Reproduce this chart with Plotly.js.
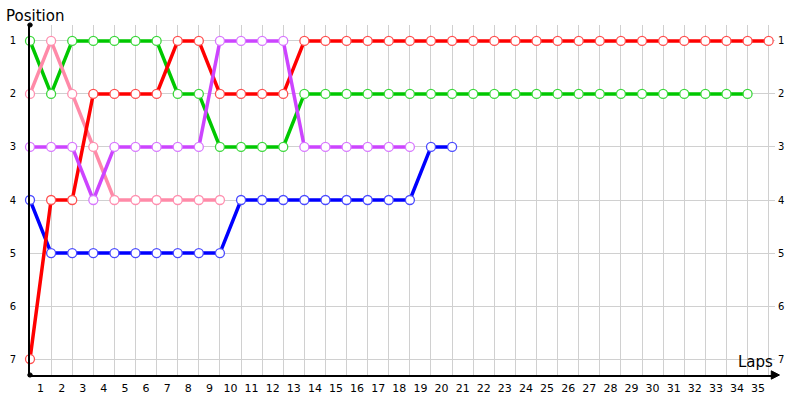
<!DOCTYPE html>
<html>
<head>
<meta charset="utf-8">
<script src="https://cdn.plot.ly/plotly-3.0.1.min.js"></script>
<style>html,body{margin:0;padding:0;background:#fff;}#chart{width:800px;height:400px;}</style>
</head>
<body>
<div id="chart"></div>
<script>
// Positions for each driver (index = lap number)
const redPos    = [7,4,4,2,2,2,2,1,1,2,2,2,2,1,1,1,1,1,1,1,1,1,1,1,1,1,1,1,1,1,1,1,1,1,1,1];
const greenPos  = [1,2,1,1,1,1,1,2,2,3,3,3,3,2,2,2,2,2,2,2,2,2,2,2,2,2,2,2,2,2,2,2,2,2,2];
const pinkPos   = [2,1,2,3,4,4,4,4,4,4];
const purplePos = [3,3,3,4,3,3,3,3,3,1,1,1,1,3,3,3,3,3,3];
const bluePos   = [4,5,5,5,5,5,5,5,5,5,4,4,4,4,4,4,4,4,4,3,3];
const lapLabels = Array.from({length:35}, (_, i) => String(i + 1));
const posTicks = [1,2,3,4,5,6,7];

const laps = arr => arr.map((_, i) => i);

function series(pos, lineColor, markerLine) {
  return {
    x: laps(pos), y: pos, type: 'scatter', mode: 'lines+markers',
    line: {color: lineColor, width: 3.5},
    marker: {size: 9, color: '#ffffff', line: {color: markerLine, width: 1.3}},
    hoverinfo: 'skip', showlegend: false, cliponaxis: false
  };
}

const data = [
  series(bluePos, '#0000ff', '#4a4aff'),
  series(greenPos, '#00c800', '#3cd83c'),
  series(pinkPos, '#ff8aa8', '#ff90b0'),
  series(redPos, '#ff0000', '#ff5050'),
  series(purplePos, '#cc44ff', '#d878ff'),
  {x: laps(redPos), y: redPos, yaxis: 'y2', type: 'scatter', mode: 'markers',
   marker: {opacity: 0}, hoverinfo: 'skip', showlegend: false}
];

const font = {family: 'DejaVu Sans, Verdana, sans-serif', color: '#000'};
const ints = Array.from({length:36}, (_, i) => i);

const layout = {
  width: 800, height: 400,
  margin: {l: 30, r: 25, t: 25, b: 25},
  paper_bgcolor: '#ffffff', plot_bgcolor: '#ffffff',
  showlegend: false,
  font: Object.assign({size: 11}, font),
  xaxis: {
    range: [0, 35.3], showgrid: false, zeroline: false,
    tickvals: lapLabels.map((_, i) => i + 0.5), ticktext: lapLabels,
    ticks: '', tickfont: Object.assign({size: 11}, font), ticklabelstandoff: 2,
    showline: true, linecolor: '#000', linewidth: 2,
    minor: {tickvals: ints, showgrid: true, gridcolor: '#d0d0d0', gridwidth: 1, ticks: ''}
  },
  yaxis: {
    range: [7.3, 0.7], tickvals: posTicks, ticktext: posTicks.map(String),
    showgrid: true, gridcolor: '#d0d0d0', gridwidth: 1, zeroline: false,
    ticks: '', ticklabelstandoff: 10, tickfont: Object.assign({size: 10}, font),
    showline: true, linecolor: '#000', linewidth: 2
  },
  yaxis2: {
    overlaying: 'y', side: 'right', range: [7.3, 0.7],
    tickvals: posTicks, ticktext: posTicks.map(String),
    showgrid: false, zeroline: false, ticks: '', showline: false, ticklabelstandoff: 2,
    tickfont: Object.assign({size: 10}, font)
  },
  annotations: [
    {text: 'Position', xref: 'paper', yref: 'paper', x: -0.035, y: 1.0, yshift: -2,
     xanchor: 'left', yanchor: 'bottom', showarrow: false, font: Object.assign({size: 15}, font)},
    {text: 'Laps', xref: 'paper', yref: 'paper', x: 1.0, y: 0, yshift: 2,
     xanchor: 'right', yanchor: 'bottom', showarrow: false, font: Object.assign({size: 15}, font)}
  ],
  shapes: [
    {type: 'path', xref: 'paper', yref: 'paper',
     path: 'M 0.995 -0.012 L 1.006 0 L 0.995 0.012 Z', fillcolor: '#000', line: {color: '#000', width: 1}},
    {type: 'circle', xref: 'paper', yref: 'paper', x0: -0.003, x1: 0.003, y0: 0.994, y1: 1.006,
     fillcolor: '#000', line: {color: '#000', width: 1}},
    {type: 'circle', xref: 'paper', yref: 'paper', x0: -0.003, x1: 0.003, y0: -0.006, y1: 0.006,
     fillcolor: '#000', line: {color: '#000', width: 1}}
  ]
};

Plotly.newPlot('chart', data, layout, {displayModeBar: false, staticPlot: true});
</script>
</body>
</html>
